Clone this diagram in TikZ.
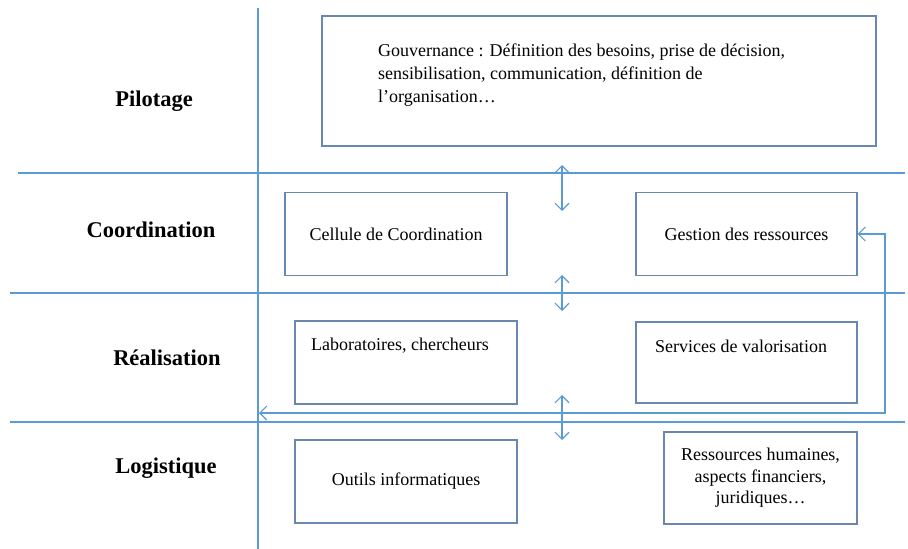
\documentclass[tikz,border=0pt]{standalone}
\usepackage{fontspec}
\setmainfont{Liberation Serif}
\usetikzlibrary{arrows.meta}
\definecolor{lineblue}{RGB}{91,155,213}
\definecolor{boxblue}{RGB}{105,135,175}
\begin{document}
\begin{tikzpicture}[x=1pt,y=-1pt,
  sep/.style={draw=lineblue,line width=1.1pt},
  txt/.style={font=\fontsize{18}{19}\selectfont},
  box/.style={draw=boxblue,line width=1.1pt,fill=white,inner sep=0pt,txt,align=center},
  rowlabel/.style={font=\fontsize{22.5}{26}\selectfont\bfseries},
  link/.style={draw=lineblue,line width=1.1pt,{Straight Barb[length=7pt,width=14pt]}-{Straight Barb[length=7pt,width=14pt]}}
]
\useasboundingbox (0,0) rectangle (908,549);
% separators
\coordinate (vtop) at (258,8);
\coordinate (vbot) at (258,549);
\draw[sep] (vtop) -- (vbot);
\coordinate (h1a) at (18,173); \coordinate (h1b) at (905,173);
\coordinate (h2a) at (10,293); \coordinate (h2b) at (905,293);
\coordinate (h3a) at (10,422); \coordinate (h3b) at (905,422);
\draw[sep] (h1a) -- (h1b);
\draw[sep] (h2a) -- (h2b);
\draw[sep] (h3a) -- (h3b);
% row labels
\node[rowlabel] (lp) at (154,101) {Pilotage};
\node[rowlabel] (lc) at (151,230) {Coordination};
\node[rowlabel] (lr) at (167,358) {Réalisation};
\node[rowlabel] (ll) at (166,468) {Logistique};
% boxes
\node[box,minimum width=554pt,minimum height=130pt] (gouv) at (599,81) {};
\node[font=\fontsize{18}{23}\selectfont,anchor=north west,align=left,inner sep=0pt] (gouvt) at (378,44)
  {Gouvernance : Définition des besoins, prise de décision,\\sensibilisation, communication, définition de\\l’organisation…};
\node[box,minimum width=222pt,minimum height=83pt] (cell) at (396,234) {Cellule de Coordination};
\node[box,minimum width=221pt,minimum height=83pt] (gest) at (746.5,234) {Gestion des ressources};
\node[box,minimum width=222pt,minimum height=83pt] (labo) at (406,362.5) {};
\node[txt,inner sep=0pt] (labot) at (400,346) {Laboratoires, chercheurs};
\node[box,minimum width=221pt,minimum height=81pt] (serv) at (746.5,362.5) {};
\node[txt,inner sep=0pt] (servt) at (741,346) {Services de valorisation};
\node[box,minimum width=222pt,minimum height=83pt] (outi) at (406,481.5) {Outils informatiques};
\node[box,minimum width=193pt,minimum height=92pt,font=\fontsize{18}{21.5}\selectfont] (ress) at (760.5,478) {Ressources humaines,\\aspects financiers,\\juridiques…};
% double arrows
\coordinate (a1t) at (562,165); \coordinate (a1b) at (562,211);
\coordinate (a2t) at (562,275); \coordinate (a2b) at (562,311);
\coordinate (a3t) at (562,395); \coordinate (a3b) at (562,440);
\draw[link] (a1t) -- (a1b);
\draw[link] (a2t) -- (a2b);
\draw[link] (a3t) -- (a3b);
% feedback arrow
\coordinate (fbl) at (259,413);
\coordinate (fbc) at (885,413);
\draw[link] (fbl) -- (fbc) |- (gest.east);
\end{tikzpicture}
\end{document}
